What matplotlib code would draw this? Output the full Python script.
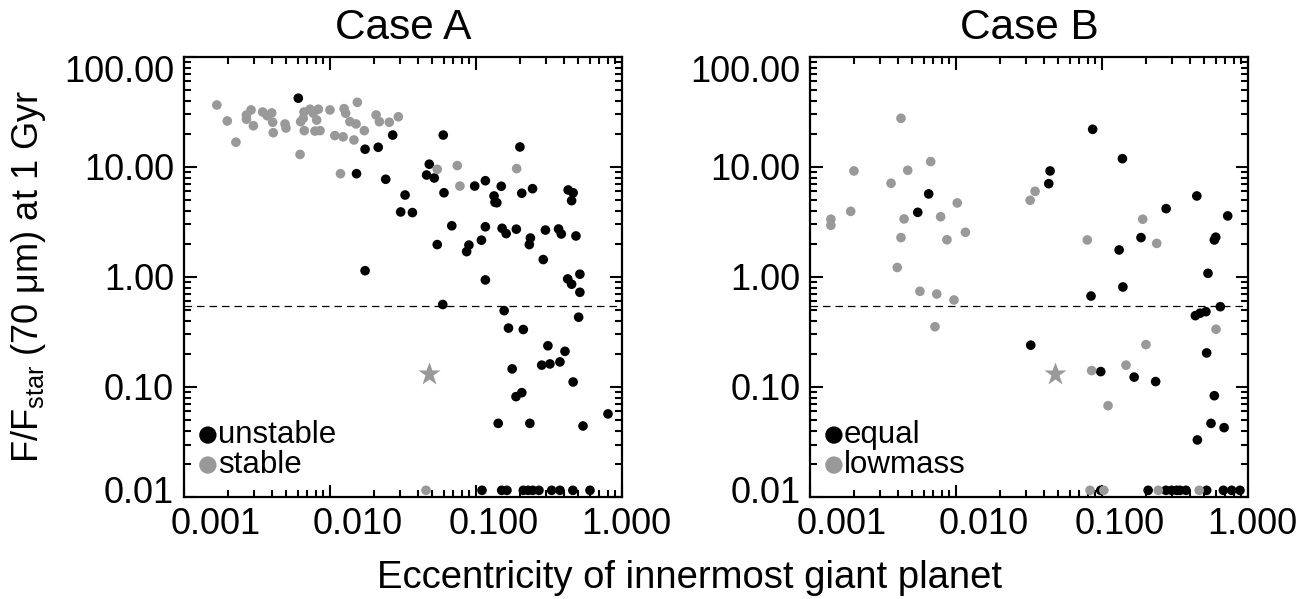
import numpy as np
import matplotlib
matplotlib.use('Agg')
import matplotlib.pyplot as plt
from matplotlib.transforms import ScaledTranslation

plt.rcParams['font.family'] = ['Liberation Sans', 'DejaVu Sans']
plt.rcParams['mathtext.fontset'] = 'custom'
plt.rcParams['mathtext.rm'] = 'Liberation Sans'
plt.rcParams['mathtext.it'] = 'Liberation Sans:italic'

GRAY = '#999999'
FLOOR = 0.0115

# Case A: unstable (black) and stable (gray) systems
unstable_e = [0.00607, 0.0152, 0.0174, 0.0214, 0.0241, 0.0269, 0.0327, 0.0305, 0.0367, 0.0479,
              0.0459, 0.0518, 0.0597, 0.0604, 0.0543, 0.0683, 0.0174, 0.0592, 0.0895, 0.0863,
              0.109, 0.116, 0.098, 0.116, 0.133, 0.135, 0.139, 0.149, 0.200, 0.206,
              0.244, 0.151, 0.161, 0.189, 0.236, 0.232, 0.299, 0.368, 0.384, 0.484,
              0.289, 0.116, 0.428, 0.463, 0.452, 0.425, 0.452, 0.515, 0.515, 0.156,
              0.505, 0.167, 0.211, 0.311, 0.407, 0.282, 0.321, 0.376, 0.177, 0.463,
              0.188, 0.206, 0.142, 0.234, 0.541, 0.802,
              0.110, 0.150, 0.163, 0.211, 0.228, 0.245, 0.270, 0.330, 0.376, 0.461, 0.604]
unstable_f = [42.2, 8.69, 14.5, 15.1, 7.73, 19.5, 5.56, 3.90, 3.85, 10.6,
              8.45, 7.94, 19.5, 5.83, 1.97, 2.92, 1.14, 0.562, 1.95, 1.70,
              2.16, 2.86, 6.71, 7.50, 5.45, 4.78, 4.73, 6.68, 15.2, 5.77,
              6.35, 2.77, 2.48, 2.72, 2.26, 1.97, 2.67, 2.73, 2.46, 2.36,
              1.44, 0.94, 6.18, 5.83, 4.94, 0.96, 0.86, 1.06, 0.726, 0.494,
              0.431, 0.343, 0.333, 0.237, 0.211, 0.158, 0.162, 0.169, 0.146, 0.111,
              0.0817, 0.0888, 0.0467, 0.0467, 0.0442, 0.0569,
              FLOOR, FLOOR, FLOOR, FLOOR, FLOOR, FLOOR, FLOOR, FLOOR, FLOOR, FLOOR, FLOOR]

stable_e = [0.00168, 0.00198, 0.00227, 0.00268, 0.00268, 0.00288, 0.00299, 0.00346, 0.00372, 0.00399,
            0.00405, 0.00409, 0.00492, 0.00500, 0.00624, 0.00630, 0.00656, 0.00664, 0.00667, 0.00730,
            0.00769, 0.00789, 0.00811, 0.00832, 0.00855, 0.0100, 0.0108, 0.0118, 0.0123, 0.0125,
            0.0128, 0.0137, 0.0146, 0.0151, 0.0154, 0.0172, 0.0207, 0.0218, 0.0255, 0.0294,
            0.0543, 0.0745, 0.0776, 0.190, 0.0455]
stable_f = [36.6, 26.2, 16.8, 29.7, 27.2, 33.0, 23.7, 31.6, 29.2, 31.0,
            25.5, 20.5, 24.6, 22.6, 13.0, 25.8, 27.7, 31.6, 21.4, 33.5,
            30.8, 21.2, 26.7, 33.5, 21.4, 33.0, 19.3, 8.69, 18.8, 33.9,
            30.8, 25.8, 17.6, 24.6, 38.7, 21.4, 29.7, 25.8, 25.5, 28.6,
            9.53, 10.3, 6.71, 9.66, FLOOR]

# Case B: equal-mass (black) and low-mass (gray) systems
equal_e = [0.00650, 0.00547, 0.0441, 0.0432, 0.0325, 0.0863, 0.138, 0.446, 0.275, 0.726,
           0.185, 0.131, 0.601, 0.588, 0.532, 0.139, 0.0841, 0.646, 0.436, 0.469,
           0.515, 0.098, 0.166, 0.233, 0.521, 0.588, 0.558, 0.686, 0.450,
           0.098, 0.207, 0.274, 0.300, 0.325, 0.342, 0.376, 0.521, 0.678, 0.773, 0.881]
equal_f = [5.69, 3.87, 9.20, 7.05, 0.240, 22.0, 11.9, 5.45, 4.18, 3.59,
           2.28, 1.76, 2.30, 2.17, 1.08, 0.811, 0.671, 0.537, 0.445, 0.468,
           0.484, 0.138, 0.123, 0.112, 0.204, 0.0833, 0.0467, 0.0427, 0.0330,
           FLOOR, FLOOR, FLOOR, FLOOR, FLOOR, FLOOR, FLOOR, FLOOR, FLOOR, FLOOR, FLOOR]

lowmass_e = [0.00420, 0.00200, 0.00671, 0.00467, 0.00359, 0.00190, 0.00139, 0.00139, 0.00441, 0.00785,
             0.0102, 0.00420, 0.00867, 0.0116, 0.00396, 0.00566, 0.00738, 0.00969, 0.00718, 0.0322,
             0.0348, 0.190, 0.0793, 0.237, 0.604, 0.200, 0.0849, 0.146, 0.110,
             0.0828, 0.103, 0.243, 0.463]
lowmass_f = [27.7, 9.20, 11.2, 9.33, 7.11, 3.95, 3.35, 2.95, 3.37, 3.53,
             4.71, 2.28, 2.18, 2.55, 1.22, 0.741, 0.700, 0.618, 0.353, 4.98,
             6.01, 3.35, 2.17, 2.02, 0.335, 0.243, 0.141, 0.158, 0.0676,
             FLOOR, FLOOR, FLOOR, FLOOR]

star_e, star_f = 0.048, 0.13
threshold = 0.55

yticks = [0.01, 0.1, 1, 10, 100]
ylabels = ['0.01', '0.10', '1.00', '10.00', '100.00']
xticks = [0.001, 0.01, 0.1, 1]
xlabels = ['0.001', '0.010', '0.100', '1.000']
# label nudges in pixels (the original's labels sit off their ticks)
x_nudge = [32, 28, 18, 4]
y_nudge = [7, 0, 0, 0, -12]

fig = plt.figure(figsize=(13.13, 5.99), dpi=100)
ax1 = fig.add_axes([0.1401, 0.1703, 0.3336, 0.7346])
ax2 = fig.add_axes([0.6169, 0.1703, 0.3336, 0.7346])

panels = [
    (ax1, 'Case A', unstable_e, unstable_f, 'unstable', stable_e, stable_f, 'stable'),
    (ax2, 'Case B', equal_e, equal_f, 'equal', lowmass_e, lowmass_f, 'lowmass'),
]

for ax, title, be, bf, blab, ge, gf, glab in panels:
    ax.set_xscale('log')
    ax.set_yscale('log')
    ax.set_xlim(0.001, 1.0)
    ax.set_ylim(0.01, 100)
    ax.axhline(threshold, color='black', lw=0.9, ls=(0, (6, 4)), zorder=1)
    ax.scatter(be, bf, s=48, color='black', edgecolors='none', label=blab, zorder=3, clip_on=False)
    ax.scatter(ge, gf, s=48, color=GRAY, edgecolors='none', label=glab, zorder=3, clip_on=False)
    ax.plot(star_e, star_f, marker='*', ms=17, color=GRAY, mec='none', ls='none', zorder=3)
    ax.set_xticks(xticks, xlabels)
    ax.set_yticks(yticks, ylabels)
    ax.tick_params(which='both', direction='in', top=True, right=True, width=1.5,
                   labelsize=26)
    ax.tick_params(which='major', length=9, pad=7)
    ax.tick_params(which='minor', length=5)
    for sp in ax.spines.values():
        sp.set_linewidth(1.6)
    ax.set_title(title, fontsize=30.5, pad=13)
    ax.legend(loc='lower left', bbox_to_anchor=(0.035, 0.038), frameon=False, fontsize=22.5,
              handlelength=0.55, handletextpad=0.05, labelspacing=0.0, borderpad=0,
              markerscale=1.8, borderaxespad=0)
    for lab, dx in zip(ax.get_xticklabels(), x_nudge):
        lab.set_transform(lab.get_transform() + ScaledTranslation(dx / 100, 0, fig.dpi_scale_trans))
    for lab, dy in zip(ax.get_yticklabels(), y_nudge):
        lab.set_transform(lab.get_transform() + ScaledTranslation(0, dy / 100, fig.dpi_scale_trans))

ax1.set_ylabel('F/F$_{\\rm star}$ (70 μm) at 1 Gyr', fontsize=26)
ax1.yaxis.set_label_coords(-0.31, 0.5)
fig.text(0.5255, 0.035, 'Eccentricity of innermost giant planet', fontsize=27.5,
         ha='center', va='center')

fig.savefig('out.png', dpi=100)
